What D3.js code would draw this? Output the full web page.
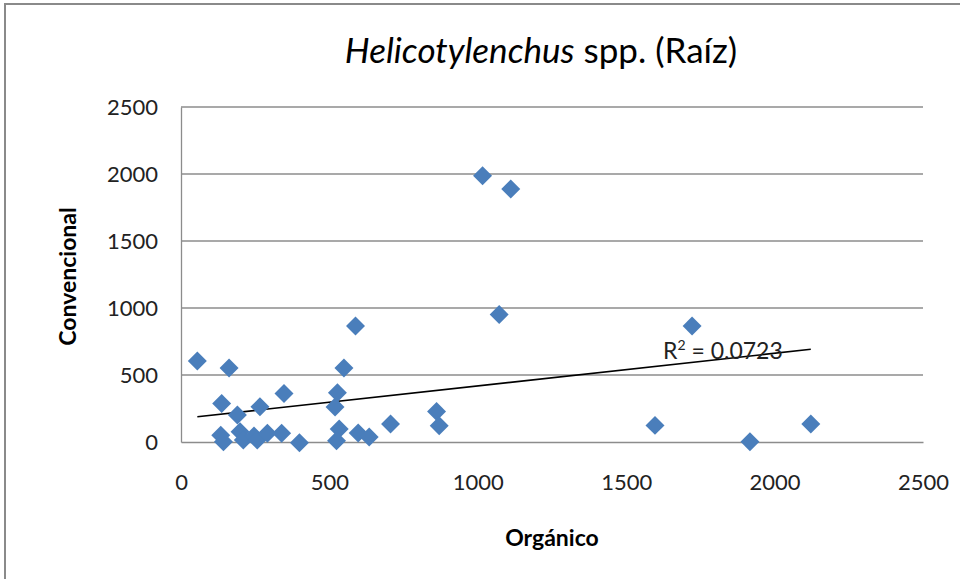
<!DOCTYPE html>
<html>
<head>
<meta charset="utf-8">
<script src="https://cdn.jsdelivr.net/npm/d3@7"></script>
<style>
  body { margin: 0; background: #fff; }
  svg { display: block; font-family: Lato, "Open Sans", sans-serif; }
</style>
</head>
<body>
<svg id="chart" width="960" height="579"></svg>
<script>
// values (Orgánico vs Convencional)
var organico = [55, 162, 137, 190, 266, 347, 527, 519, 549, 588,
                134, 143, 199, 210, 246, 257, 291, 339, 399, 533,
                524, 597, 634, 706, 861, 870, 1016, 1111, 1072, 1722,
                1597, 1917, 2122];
var convencional = [605, 553, 288, 201, 263, 362, 367, 262, 553, 865,
                    50, 2, 77, 15, 45, 15, 65, 65, -5, 97,
                    10, 67, 38, 134, 228, 121, 1987, 1888, 952, 865,
                    124, 2, 134];
var ticks = [0, 500, 1000, 1500, 2000, 2500];
// linear trend
var trendSlope = 0.2438;
var trendIntercept = 174.6;
var r2Label = "0.0723";

var svg = d3.select("#chart");
var margin = {left: 181, right: 37, top: 107, bottom: 137};
var W = 960, H = 579;

// outer chart border
svg.append("rect")
    .attr("x", 5).attr("y", 4)
    .attr("width", 1000).attr("height", 600)
    .attr("fill", "#fff")
    .attr("stroke", "#8a8a8a")
    .attr("stroke-width", 2);

var x = d3.scaleLinear().domain([0, 2500]).range([margin.left, W - margin.right]);
var y = d3.scaleLinear().domain([0, 2500]).range([H - margin.bottom, margin.top]);

// horizontal gridlines
svg.append("g").selectAll("line").data(ticks.slice(1)).enter().append("line")
    .attr("x1", x(0)).attr("x2", x(2500))
    .attr("y1", function (d) { return y(d); })
    .attr("y2", function (d) { return y(d); })
    .attr("stroke", "#8c8c8c").attr("stroke-width", 1.3);

// axes
var fmt = d3.format("d");
var yAxis = svg.append("g")
    .attr("transform", "translate(" + x(0) + ",0)")
    .call(d3.axisLeft(y).tickValues(ticks).tickFormat(fmt).tickSize(0).tickPadding(23));
var xAxis = svg.append("g")
    .attr("transform", "translate(0," + y(0) + ")")
    .call(d3.axisBottom(x).tickValues(ticks).tickFormat(fmt).tickSize(0).tickPadding(32));

[xAxis, yAxis].forEach(function (g) {
    g.select(".domain").attr("stroke", "#8c8c8c").attr("stroke-width", 1.3);
    g.selectAll("text")
        .style("font-family", "Lato, 'Open Sans', sans-serif")
        .style("font-size", "22px")
        .attr("fill", "#222");
});
yAxis.selectAll("text").attr("dy", "0.35em");

// trendline over data extent
var xr = d3.extent(organico);
svg.append("line")
    .attr("x1", x(xr[0])).attr("y1", y(trendIntercept + trendSlope * xr[0]))
    .attr("x2", x(xr[1])).attr("y2", y(trendIntercept + trendSlope * xr[1]))
    .attr("stroke", "#000").attr("stroke-width", 1.6);

// diamond markers
var pts = organico.map(function (v, i) { return {x: v, y: convencional[i]}; });
var diamond = d3.symbol().type(d3.symbolSquare).size(180);
svg.append("g").selectAll("path").data(pts).enter().append("path")
    .attr("d", diamond)
    .attr("transform", function (d) {
        return "translate(" + x(d.x) + "," + y(d.y) + ") rotate(45)";
    })
    .attr("fill", "#4a7ebb");

// R² label
var r2 = svg.append("text")
    .attr("x", 663).attr("y", 359)
    .style("font-size", "23px")
    .attr("fill", "#222");
r2.append("tspan").text("R");
r2.append("tspan").attr("dy", "-9").style("font-size", "14px").text("2");
r2.append("tspan").attr("dy", "9").text(" = " + r2Label);

// title
var title = svg.append("text")
    .attr("x", 541).attr("y", 63)
    .attr("text-anchor", "middle")
    .style("font-size", "35px")
    .attr("fill", "#000");
title.append("tspan").style("font-style", "italic").text("Helicotylenchus");
title.append("tspan").text(" spp. (Raíz)");

// axis titles
svg.append("text")
    .attr("x", (x(0) + x(2500)) / 2).attr("y", 546)
    .attr("text-anchor", "middle")
    .style("font-size", "23px").style("font-weight", "bold")
    .text("Orgánico");
svg.append("text")
    .attr("transform", "translate(76," + (y(1250) + 2) + ") rotate(-90)")
    .attr("text-anchor", "middle")
    .style("font-size", "23px").style("font-weight", "bold")
    .text("Convencional");
</script>
</body>
</html>
